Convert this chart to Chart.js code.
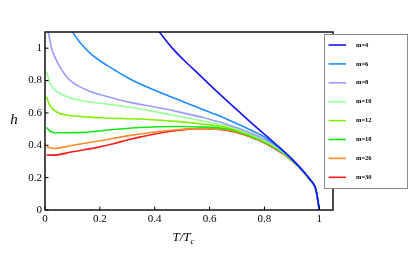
<!DOCTYPE html>
<html>
<head>
<meta charset="utf-8">
<script src="https://cdn.jsdelivr.net/npm/chart.js@4.4.0/dist/chart.umd.min.js"></script>
<style>
  html, body { margin: 0; padding: 0; background: #fff; }
  #wrap { width: 415px; height: 277px; }
</style>
</head>
<body>
<div id="wrap"><canvas id="chart" width="415" height="277"></canvas></div>
<script>
"use strict";

// Curve data: h against T/Tc for each m
const m4T  = [0.417, 0.46, 0.504, 0.565, 0.626, 0.687, 0.747, 0.808, 0.869, 0.905, 0.942, 0.966, 0.984, 0.99, 1];
const m4H  = [1.10, 1.008, 0.93, 0.832, 0.733, 0.639, 0.546, 0.456, 0.366, 0.307, 0.24, 0.19, 0.146, 0.108, 0];

const m6T  = [0.10, 0.13, 0.164, 0.225, 0.31, 0.383, 0.504, 0.58, 0.626, 0.67, 0.747, 0.808, 0.869, 0.905, 0.942, 0.966, 0.984, 0.99, 1];
const m6H  = [1.10, 1.03, 0.97, 0.895, 0.81, 0.752, 0.669, 0.618, 0.588, 0.556, 0.496, 0.443, 0.362, 0.303, 0.239, 0.189, 0.145, 0.107, 0];

const m8T  = [0.012, 0.024, 0.043, 0.073, 0.103, 0.164, 0.225, 0.31, 0.40, 0.49, 0.58, 0.626, 0.67, 0.75, 0.82, 0.86, 0.9, 0.942, 0.966, 0.984, 0.99, 1];
const m8H  = [1.10, 1.00, 0.92, 0.836, 0.785, 0.733, 0.702, 0.665, 0.636, 0.605, 0.57, 0.548, 0.525, 0.476, 0.42, 0.375, 0.316, 0.238, 0.188, 0.144, 0.106, 0];

const m10T = [0.006, 0.018, 0.043, 0.103, 0.225, 0.31, 0.40, 0.49, 0.58, 0.67, 0.75, 0.82, 0.86, 0.9, 0.942, 0.966, 0.984, 0.99, 1];
const m10H = [0.855, 0.785, 0.733, 0.688, 0.655, 0.635, 0.608, 0.578, 0.548, 0.517, 0.47, 0.413, 0.369, 0.312, 0.237, 0.187, 0.144, 0.106, 0];

const m12T = [0.006, 0.015, 0.03, 0.05, 0.079, 0.2, 0.346, 0.49, 0.58, 0.67, 0.75, 0.82, 0.86, 0.9, 0.942, 0.966, 0.984, 0.99, 1];
const m12H = [0.70, 0.655, 0.622, 0.60, 0.587, 0.57, 0.562, 0.546, 0.53, 0.507, 0.462, 0.408, 0.365, 0.31, 0.237, 0.186, 0.143, 0.105, 0];

const m18T = [0.006, 0.02, 0.043, 0.14, 0.25, 0.346, 0.49, 0.58, 0.67, 0.75, 0.82, 0.86, 0.9, 0.942, 0.966, 0.984, 0.99, 1];
const m18H = [0.51, 0.485, 0.477, 0.48, 0.497, 0.51, 0.516, 0.512, 0.499, 0.456, 0.403, 0.361, 0.307, 0.236, 0.185, 0.143, 0.105, 0];

const m26T = [0.006, 0.03, 0.1, 0.2, 0.3, 0.40, 0.49, 0.58, 0.67, 0.75, 0.82, 0.86, 0.9, 0.942, 0.966, 0.984, 0.99, 1];
const m26H = [0.39, 0.38, 0.40, 0.428, 0.458, 0.482, 0.497, 0.503, 0.493, 0.453, 0.40, 0.359, 0.305, 0.235, 0.184, 0.143, 0.105, 0];

const m30T = [0.006, 0.03, 0.1, 0.2, 0.25, 0.3, 0.35, 0.40, 0.49, 0.565, 0.626, 0.687, 0.747, 0.808, 0.869, 0.905, 0.942, 0.966, 0.984, 0.99, 1];
const m30H = [0.339, 0.339, 0.36, 0.39, 0.41, 0.432, 0.452, 0.47, 0.493, 0.503, 0.499, 0.483, 0.452, 0.408, 0.345, 0.297, 0.235, 0.184, 0.143, 0.105, 0];

const seriesLabels = ["m=4", "m=6", "m=8", "m=10", "m=12", "m=18", "m=26", "m=30"];
const seriesT = [m4T, m6T, m8T, m10T, m12T, m18T, m26T, m30T];
const seriesH = [m4H, m6H, m8H, m10H, m12H, m18H, m26H, m30H];
const seriesColors = ["#1414f0", "#1e8cff", "#9a9aff", "#96ff96", "#80f000", "#14e614", "#ff8c28", "#ff1e1e"];

const xTicks = [0, 0.2, 0.4, 0.6, 0.8, 1];
const yTicks = [0, 0.2, 0.4, 0.6, 0.8, 1];

const SERIF = "'Liberation Serif', 'DejaVu Serif', serif";

function fmt(v) {
    if (v === 0) return "0";
    if (v === 1) return "1";
    return v.toFixed(1);
}

// Frame, inward ticks, axis titles and the boxed legend
const decorations = {
    id: "decorations",
    afterDraw(chart) {
        const c = chart.ctx;
        const a = chart.chartArea;
        const xs = chart.scales.x, ys = chart.scales.y;
        c.save();

        c.strokeStyle = "#000";
        c.lineWidth = 1.4;
        c.strokeRect(a.left, a.top, a.right - a.left, a.bottom - a.top);

        c.lineWidth = 1;
        c.beginPath();
        xTicks.forEach(v => {
            const px = xs.getPixelForValue(v);
            c.moveTo(px, a.bottom); c.lineTo(px, a.bottom - 3.5);
        });
        yTicks.forEach(v => {
            const py = ys.getPixelForValue(v);
            c.moveTo(a.left, py); c.lineTo(a.left + 3.5, py);
        });
        c.stroke();

        // axis titles
        c.fillStyle = "#000";
        c.font = "italic 15px " + SERIF;
        c.textAlign = "center";
        c.textBaseline = "middle";
        c.fillText("h", 14, 120);

        c.font = "italic 13px " + SERIF;
        c.textAlign = "left";
        c.textBaseline = "alphabetic";
        const main = "T/T";
        const w = c.measureText(main).width;
        const x0 = 184 - (w + 5) / 2;
        c.fillText(main, x0, 241);
        c.font = "italic 9px " + SERIF;
        c.fillText("c", x0 + w, 244);

        // legend box
        const lx = 324, ly = 34, lw = 83, lh = 154;
        c.fillStyle = "#fff";
        c.fillRect(lx, ly, lw, lh);
        c.strokeStyle = "#8a8a8a";
        c.lineWidth = 1;
        c.strokeRect(lx + 0.5, ly + 0.5, lw, lh);

        c.font = "bold 6.5px " + SERIF;
        c.textBaseline = "middle";
        chart.data.datasets.forEach((ds, i) => {
            const ry = 45 + i * 18.9;
            c.strokeStyle = ds.borderColor;
            c.lineWidth = 1.6;
            c.beginPath();
            c.moveTo(328.5, ry); c.lineTo(346, ry);
            c.stroke();
            c.fillStyle = "#000";
            c.fillText(ds.label, 356, ry);
        });

        c.restore();
    }
};

const datasets = seriesLabels.map((label, i) => ({
    label: label,
    data: seriesT[i].map((t, j) => ({ x: t, y: seriesH[i][j] })),
    borderColor: seriesColors[i],
    borderWidth: 1.6,
    pointRadius: 0,
    fill: false,
    cubicInterpolationMode: "monotone"
}));

new Chart(document.getElementById("chart"), {
    type: "line",
    data: { datasets: datasets },
    options: {
        responsive: false,
        animation: false,
        layout: { padding: { left: 0, top: 32, right: 82, bottom: 0 } },
        plugins: { legend: { display: false }, tooltip: { enabled: false } },
        scales: {
            x: {
                type: "linear",
                min: 0,
                max: 1.05,
                afterBuildTicks: s => { s.ticks = xTicks.map(v => ({ value: v })); },
                afterFit: s => { s.height = 67; },
                grid: { display: false, drawTicks: false },
                border: { display: false },
                ticks: {
                    padding: 3,
                    maxRotation: 0,
                    color: "#000",
                    font: { family: SERIF, size: 11 },
                    callback: v => fmt(v)
                }
            },
            y: {
                type: "linear",
                min: 0,
                max: 1.1,
                afterBuildTicks: s => { s.ticks = yTicks.map(v => ({ value: v })); },
                afterFit: s => { s.width = 45; },
                grid: { display: false, drawTicks: false },
                border: { display: false },
                ticks: {
                    padding: 3,
                    color: "#000",
                    font: { family: SERIF, size: 11 },
                    callback: v => fmt(v)
                }
            }
        }
    },
    plugins: [decorations]
});
</script>
</body>
</html>
